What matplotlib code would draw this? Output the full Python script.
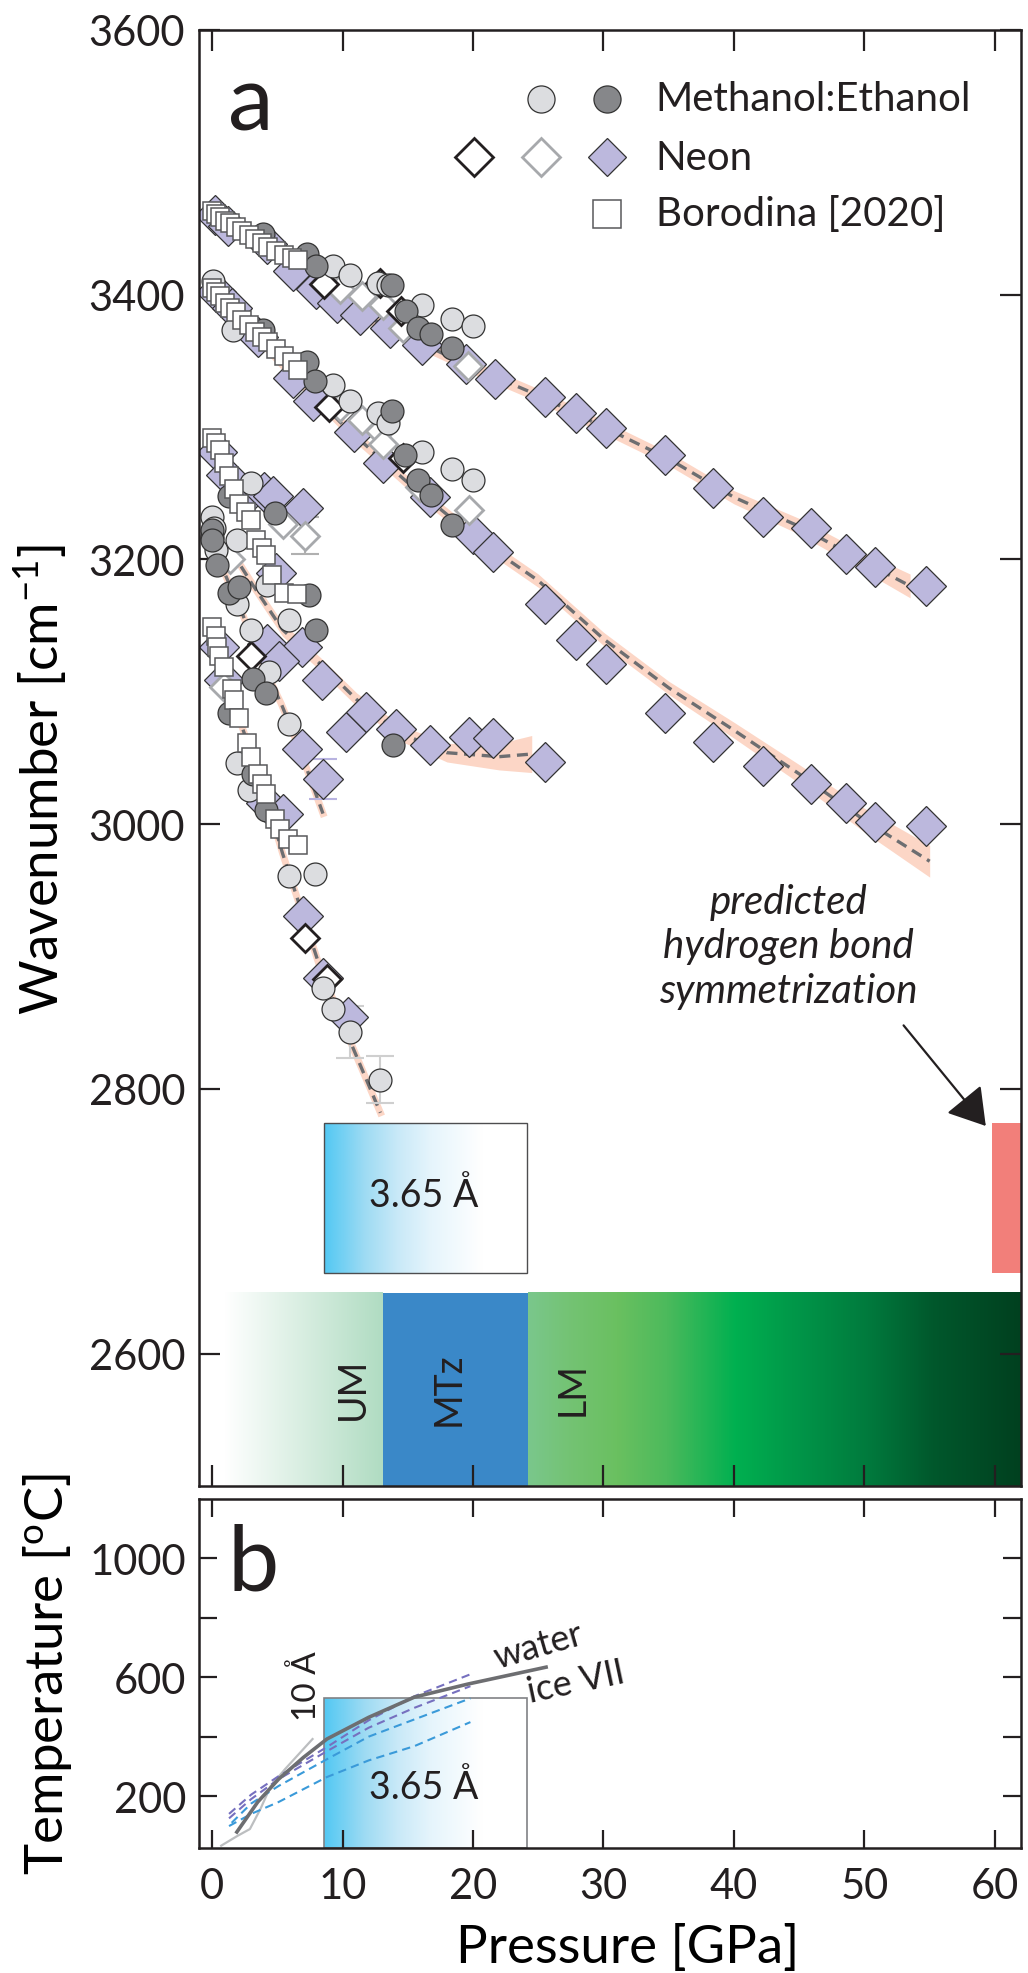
import numpy as np
import matplotlib
matplotlib.use("Agg")
import matplotlib.pyplot as plt
from matplotlib.colors import LinearSegmentedColormap
from matplotlib.patches import Rectangle

plt.rcParams['font.family'] = ['Lato', 'DejaVu Sans']
plt.rcParams['mathtext.fontset'] = 'custom'
plt.rcParams['mathtext.rm'] = 'Lato'
plt.rcParams['mathtext.it'] = 'Lato:italic'
INK = '#231f20'
plt.rcParams['text.color'] = INK

# ---------------- data: panel a (pressure in GPa, wavenumber in cm-1) ----------------
# Borodina [2020] (four bands, low pressure)
bor_P = [0.0, 0.3, 0.6, 1.0, 1.4, 1.8, 2.3, 2.8, 3.3, 3.8, 4.3, 4.9, 5.5, 6.1, 6.6,
         0.0, 0.3, 0.6, 1.0, 1.4, 1.8, 2.3, 2.8, 3.3, 3.8, 4.3, 4.9, 5.5, 6.1, 6.6,
         0.0, 0.3, 0.6, 0.9, 1.3, 1.7, 2.1, 2.6, 3.0, 3.4, 3.8, 4.1, 4.6, 5.5, 6.5,
         0.0, 0.3, 0.4, 0.5, 0.9, 1.5, 1.7, 2.1, 2.7, 3.0, 3.5, 3.8, 4.1, 4.8, 5.2, 5.8, 6.6]
bor_W = [3463, 3461, 3459, 3456, 3454, 3451, 3448, 3445, 3442, 3439, 3436, 3433, 3430, 3428, 3426,
         3405, 3402, 3399, 3394, 3390, 3387, 3381, 3377, 3372, 3368, 3364, 3359, 3354, 3349, 3343,
         3292, 3288, 3283, 3273, 3263, 3253, 3242, 3236, 3230, 3215, 3209, 3203, 3188, 3175, 3174,
         3149, 3142, 3134, 3127, 3119, 3102, 3094, 3080, 3061, 3051, 3038, 3030, 3023, 3004, 2996, 2989, 2984]

# Methanol:Ethanol, run 1 (light circles)
me1_P = [9.3, 10.6, 12.7, 13.5, 16.1, 18.4, 20.0,
         0.1, 1.6, 9.3, 10.6, 12.7, 13.5, 16.1, 18.4, 20.0,
         0.0, 0.15, 0.0, 0.3, 1.9, 3.0, 1.9, 4.2, 3.0, 5.9, 4.4, 5.9,
         1.9, 2.8, 5.9, 7.9, 8.5, 9.3, 10.6, 12.9]
me1_W = [3422, 3415, 3409, 3407, 3392, 3382, 3376,
         3410, 3373, 3332, 3320, 3311, 3303, 3281, 3268, 3260,
         3232, 3224, 3217, 3207, 3215, 3258, 3166, 3181, 3147, 3154, 3115, 3076,
         3046, 3026, 2961, 2962, 2876, 2860, 2843, 2807]

# Methanol:Ethanol, run 2 (dark circles)
me2_P = [3.9, 7.3, 8.0, 13.8, 14.9, 15.8, 16.8, 18.4,
         3.9, 7.3, 7.9, 13.8, 14.8, 15.8, 16.8, 18.4,
         0.0, 0.0, 0.4, 1.3, 1.3, 2.1, 4.8, 7.4, 8.0, 3.1, 4.1, 13.9,
         1.3, 3.1, 4.1]
me2_W = [3446, 3431, 3422, 3407, 3388, 3375, 3370, 3360,
         3373, 3349, 3335, 3312, 3279, 3260, 3249, 3226,
         3222, 3215, 3196, 3248, 3175, 3179, 3235, 3173, 3147, 3110, 3099, 3060,
         3084, 3038, 3011]

# Neon, run 1 (open black diamonds)
ne1_P = [8.6, 12.9, 14.5, 9.0, 14.6, 3.0, 7.1, 8.8]
ne1_W = [3408, 3409, 3388, 3315, 3277, 3127, 2914, 2883]

# Neon, run 2 (open grey diamonds)
ne2_P = [9.8, 11.5, 13.1, 14.6, 19.6, 9.8, 11.5, 12.9, 13.1, 15.9, 19.7, 5.4, 7.1, 0.9, 1.4]
ne2_W = [3404, 3399, 3392, 3375, 3346, 3315, 3305, 3297, 3287, 3255, 3237, 3227, 3218, 3104, 3200]

# Neon, run 3 (filled lavender diamonds)
ne3_P = [0.2, 1.2, 4.2, 6.2, 8.0, 9.6, 11.3, 13.6, 16.1, 19.5, 21.7, 25.5, 27.9, 30.2, 34.7,
         38.4, 42.2, 45.9, 48.6, 50.8, 54.7,
         0.3, 1.5, 3.5, 6.2, 7.7, 10.9, 13.1, 16.7, 20.0, 21.5, 25.5, 27.9, 30.2, 34.7,
         38.4, 42.2, 45.9, 48.6, 50.8, 54.7,
         0.4, 1.1, 2.6, 4.0, 4.7, 7.0, 4.9, 4.2, 6.9, 5.1, 8.4, 10.3, 11.8, 14.1, 16.7,
         19.7, 21.5, 25.5,
         6.9, 8.5,
         0.5, 0.9, 4.1, 5.4, 7.0, 8.5, 10.4]
ne3_W = [3460, 3452, 3438, 3418, 3404, 3394, 3385, 3375, 3362, 3348, 3336, 3323, 3311, 3299, 3279,
         3254, 3232, 3224, 3204, 3194, 3180,
         3402, 3390, 3368, 3337, 3320, 3296, 3273, 3247, 3219, 3206, 3166, 3139, 3121, 3084,
         3062, 3044, 3030, 3016, 3002, 2999,
         3281, 3264, 3247, 3251, 3248, 3239, 3190, 3136, 3134, 3123, 3109, 3070, 3085, 3072, 3060,
         3066, 3065, 3047,
         3057, 3034,
         3134, 3109, 3016, 3008, 2931, 2884, 2854]

# error bars: (P, W, +/-)
err_grey_P, err_grey_W, err_grey_E = [10.6, 12.9], [2843, 2807], [20, 18]
err_open_P, err_open_W, err_open_E = [7.1], [3218], [14]
err_lav_P, err_lav_W, err_lav_E = [8.5], [3034], [15]

# fitted trends with their uncertainty band half-widths
fitA_P = [0, 5, 10, 15, 20, 25, 30, 35, 40, 45, 50, 53.5]
fitA_W = [3462, 3430, 3393, 3368, 3345, 3324, 3300, 3276, 3247, 3225, 3198, 3180]
fitA_E = [5, 5, 5, 5, 5, 5, 5, 5, 5, 6, 7, 9]
fitB_P = [0, 5, 10, 15, 20, 25, 30, 35, 40, 45, 50, 55]
fitB_W = [3405, 3352, 3302, 3258, 3218, 3184, 3140, 3103, 3071, 3038, 3003, 2972]
fitB_E = [5, 5, 5, 5, 5, 5, 5, 5, 6, 7, 9, 12]
fitC_P = [1.5, 3.1, 5.4, 8.3, 11.1, 14.4, 18.0, 22.0, 24.5]
fitC_W = [3206, 3181, 3147, 3121, 3094, 3069, 3054, 3051, 3053]
fitC_E = [5, 5, 5, 5, 5, 6, 7, 10, 14]
fitD_P = [0.5, 2.4, 4.0, 5.3, 6.7, 8.5]
fitD_W = [3200, 3157, 3118, 3091, 3057, 3008]
fitE_P = [0, 2, 4, 5.4, 8.3, 10.8, 12.9]
fitE_W = [3148, 3082, 3025, 2978, 2891, 2831, 2782]

# mantle regions (GPa)
um_range = (1.0, 13.1)
mtz_range = (13.1, 24.2)
lm_range = (24.2, 62.0)
stab_365 = (8.6, 24.1)       # 3.65 A phase stability range
sym_range = (59.8, 62.0)     # predicted H-bond symmetrization

# ---------------- data: panel b (pressure in GPa, temperature in C) ----------------
melt_P = [1.9, 3.5, 5.1, 7.0, 8.8, 12.0, 15.5, 19.6, 25.6]
melt_T = [79, 180, 257, 330, 392, 465, 533, 577, 634]
tenA_P = [0.7, 1.95, 2.9, 3.7, 4.5, 5.6, 7.7]
tenA_T = [33, 66, 89, 156, 234, 291, 392]
geo1_P = [1.3, 3.0, 5.1, 8.8, 12.0, 15.5, 19.8]
geo1_T = [140, 205, 267, 365, 455, 536, 610]
geo2_P = [1.3, 3.0, 5.1, 8.8, 12.0, 15.5, 19.8]
geo2_T = [125, 190, 257, 351, 430, 497, 570]
geo3_P = [1.5, 3.0, 5.1, 8.8, 12.0, 15.5, 19.8]
geo3_T = [110, 175, 234, 324, 400, 458, 529]
geo4_P = [1.3, 3.0, 5.1, 8.8, 12.0, 15.5, 19.8]
geo4_T = [99, 140, 180, 264, 320, 368, 449]
stab_365_Tmax = 529


def hgradient(ax, x0, x1, y0, y1, stops, colors, zorder=0.5):
    cmap = LinearSegmentedColormap.from_list('g', list(zip(stops, colors)))
    grad = np.linspace(0, 1, 512).reshape(1, -1)
    ax.imshow(grad, extent=(x0, x1, y0, y1), aspect='auto', cmap=cmap,
              origin='lower', interpolation='bilinear', zorder=zorder)


fig = plt.figure(figsize=(10.28, 19.74), dpi=100)
ax = fig.add_axes([0.1936, 0.2467, 0.7996, 0.7376])
axb = fig.add_axes([0.1936, 0.0633, 0.7996, 0.1768])

cyan_stops = [0, 0.2, 0.36, 0.53, 0.78, 1]
cyan_cols = ['#52c8f3', '#9edbf3', '#c8e9f8', '#e6f5fc', '#ffffff', '#ffffff']

# ---------- panel a ----------
# mantle band
band_lo, band_hi = 2500, 2646
hgradient(ax, um_range[0], um_range[1], band_lo, band_hi, [0, 1], ['#ffffff', '#b0dcc2'])
ax.add_patch(Rectangle((mtz_range[0], band_lo), mtz_range[1] - mtz_range[0], band_hi - band_lo,
                       facecolor='#3a88c8', edgecolor='none', zorder=0.5))
hgradient(ax, lm_range[0], lm_range[1], band_lo, band_hi,
          [0, 0.08, 0.18, 0.28, 0.42, 0.55, 0.69, 0.82, 1],
          ['#7ac78c', '#74c374', '#6ac060', '#4cba5c', '#00b050', '#009548', '#007a3d', '#00582c', '#00401f'])
band_mid = 2574
ax.text(10.8, band_mid, 'UM', rotation=90, ha='center', va='center', fontsize=27, zorder=1)
ax.text(18.1, band_mid, 'MTz', rotation=90, ha='center', va='center', fontsize=27, zorder=1)
ax.text(27.6, band_mid, 'LM', rotation=90, ha='center', va='center', fontsize=27, zorder=1)

# 3.65 A box
hgradient(ax, stab_365[0], stab_365[1], 2661, 2774, cyan_stops, cyan_cols)
ax.add_patch(Rectangle((stab_365[0], 2661), stab_365[1] - stab_365[0], 2774 - 2661,
                       fill=False, edgecolor='#4d4d4f', lw=1.0, zorder=0.6))
ax.text(16.2, 2720, '3.65 Å', ha='center', va='center', fontsize=27)

# symmetrization
ax.add_patch(Rectangle((sym_range[0], 2661), sym_range[1] - sym_range[0], 2774 - 2661,
                       facecolor='#f27f7a', edgecolor='none', zorder=0.6))
ax.text(44.2, 2908, 'predicted\nhydrogen bond\nsymmetrization', ha='center', va='center',
        fontsize=29, style='italic', linespacing=1.25)
ax.annotate('', xy=(59.3, 2772), xytext=(53.0, 2848),
            arrowprops=dict(arrowstyle='-|>,head_length=0.45,head_width=0.28', color=INK,
                            lw=1.6, mutation_scale=50, shrinkA=0, shrinkB=0))

# fit bands + dashed fits
band_col = '#fcd6c6'
dash = (0, (3.3, 2.0))
for fp, fw, fe in [(fitA_P, fitA_W, fitA_E), (fitB_P, fitB_W, fitB_E), (fitC_P, fitC_W, fitC_E)]:
    fw = np.array(fw)
    fe = np.array(fe)
    ax.fill_between(fp, fw - fe, fw + fe, color=band_col, lw=0, zorder=1)
    ax.plot(fp, fw, color='#6d6e71', lw=2.4, ls=dash, zorder=2)
for fp, fw in [(fitD_P, fitD_W), (fitE_P, fitE_W)]:
    ax.plot(fp, fw, color=band_col, lw=5, zorder=1)
    ax.plot(fp, fw, color='#6d6e71', lw=2.4, ls=dash, zorder=2)

# error bars
ax.errorbar(err_grey_P, err_grey_W, yerr=err_grey_E, fmt='none', ecolor='#cfcfcf', elinewidth=1.5,
            capsize=10, capthick=1.5, zorder=2.5)
ax.errorbar(err_open_P, err_open_W, yerr=err_open_E, fmt='none', ecolor='#b0b0b0', elinewidth=1.5,
            capsize=10, capthick=1.5, zorder=2.5)
ax.errorbar(err_lav_P, err_lav_W, yerr=err_lav_E, fmt='none', ecolor='#b8b3e0', elinewidth=1.5,
            capsize=10, capthick=1.5, zorder=2.5)

# markers
lav = '#bcb8dd'
ax.plot(ne3_P, ne3_W, ls='none', marker='D', ms=20, mfc=lav, mec='#333333', mew=0.9, zorder=3)
ax.plot(ne2_P, ne2_W, ls='none', marker='D', ms=14, mfc='white', mec='#a7a9ac', mew=2.0, zorder=4)
ax.plot(ne1_P, ne1_W, ls='none', marker='D', ms=14, mfc='white', mec=INK, mew=2.0, zorder=4.2)
ax.plot(me1_P, me1_W, ls='none', marker='o', ms=16.5, mfc='#dcdde0', mec='#333333', mew=0.9, zorder=5)
ax.plot(me2_P, me2_W, ls='none', marker='o', ms=16.5, mfc='#86878a', mec='#333333', mew=0.9, zorder=5.5)
ax.plot(bor_P, bor_W, ls='none', marker='s', ms=13.5, mfc='white', mec='#58595b', mew=1.1, zorder=6)

# legend (drawn by hand)
ax.plot([25.2], [3548], ls='none', marker='o', ms=19.5, mfc='#dcdde0', mec='#333333', mew=0.9)
ax.plot([30.3], [3548], ls='none', marker='o', ms=19.5, mfc='#86878a', mec='#333333', mew=0.9)
ax.plot([20.05], [3504], ls='none', marker='D', ms=19.5, mfc='white', mec=INK, mew=2.0)
ax.plot([25.2], [3504], ls='none', marker='D', ms=19.5, mfc='white', mec='#a7a9ac', mew=2.0)
ax.plot([30.3], [3504], ls='none', marker='D', ms=19.5, mfc=lav, mec='#333333', mew=0.9)
ax.plot([30.3], [3461], ls='none', marker='s', ms=19.5, mfc='white', mec='#58595b', mew=1.1)
ax.text(34.0, 3548, 'Methanol:Ethanol', ha='left', va='center', fontsize=29)
ax.text(34.0, 3504, 'Neon', ha='left', va='center', fontsize=29)
ax.text(34.0, 3461, 'Borodina [2020]', ha='left', va='center', fontsize=29)

ax.text(1.2, 3525, 'a', ha='left', va='baseline', fontsize=66)

ax.set_xlim(-1, 62)
ax.set_ylim(2500, 3600)
ax.set_xticks([0, 10, 20, 30, 40, 50, 60])
ax.set_yticks([2600, 2800, 3000, 3200, 3400, 3600])
ax.tick_params(direction='in', length=15, width=1.6, top=True, right=True, labelbottom=False,
               labelsize=30, colors=INK, pad=10)
ax.set_ylabel('Wavenumber [cm$^{\\mathregular{-1}}$]', fontsize=38, ha='center', va='center')
ax.yaxis.set_label_coords(-0.193, 0.486)

# ---------- panel b ----------
hgradient(axb, stab_365[0], stab_365[1], 25, stab_365_Tmax, cyan_stops, cyan_cols)
axb.add_patch(Rectangle((stab_365[0], 25), stab_365[1] - stab_365[0], stab_365_Tmax - 25,
                        fill=False, edgecolor='#808285', lw=1.2, zorder=0.6))
axb.text(16.2, 230, '3.65 Å', ha='center', va='center', fontsize=27, zorder=3)

axb.plot(tenA_P, tenA_T, color='#bcbec0', lw=1.6, zorder=2)
axb.plot(geo1_P, geo1_T, color='#7670bf', lw=1.5, ls=(0, (4, 2.5)), zorder=2)
axb.plot(geo2_P, geo2_T, color='#7670bf', lw=1.5, ls=(0, (4, 2.5)), zorder=2)
axb.plot(geo3_P, geo3_T, color='#3a9ad9', lw=1.5, ls=(0, (4, 2.5)), zorder=2)
axb.plot(geo4_P, geo4_T, color='#3a9ad9', lw=1.5, ls=(0, (4, 2.5)), zorder=2)
axb.plot(melt_P, melt_T, color='#6d6e71', lw=2.6, zorder=2.5)

axb.text(7.2, 575, '10 Å', rotation=90, ha='center', va='center', fontsize=24)
axb.text(25.0, 707, 'water', rotation=16, ha='center', va='center', fontsize=26)
axb.text(27.9, 587, 'ice VII', rotation=12, ha='center', va='center', fontsize=26)
axb.text(1.2, 896, 'b', ha='left', va='baseline', fontsize=66)

axb.set_xlim(-1, 62)
axb.set_ylim(25, 1200)
axb.set_xticks([0, 10, 20, 30, 40, 50, 60])
axb.set_yticks([200, 400, 600, 800, 1000])
axb.set_yticklabels(['200', '', '600', '', '1000'])
axb.tick_params(direction='in', length=13, width=1.6, top=True, right=True,
                labelsize=30, colors=INK)
axb.tick_params(axis='x', pad=14)
axb.tick_params(axis='y', pad=9)
axb.set_ylabel('Temperature [$^{\\mathregular{o}}$C]', fontsize=38, ha='center', va='center')
axb.yaxis.set_label_coords(-0.184, 0.50)
axb.set_xlabel('Pressure [GPa]', fontsize=38, ha='center', va='center')
axb.xaxis.set_label_coords(0.522, -0.284)

for a in (ax, axb):
    for s in a.spines.values():
        s.set_linewidth(1.8)
        s.set_color(INK)
        s.set_zorder(10)

fig.savefig('out.png', dpi=100)
